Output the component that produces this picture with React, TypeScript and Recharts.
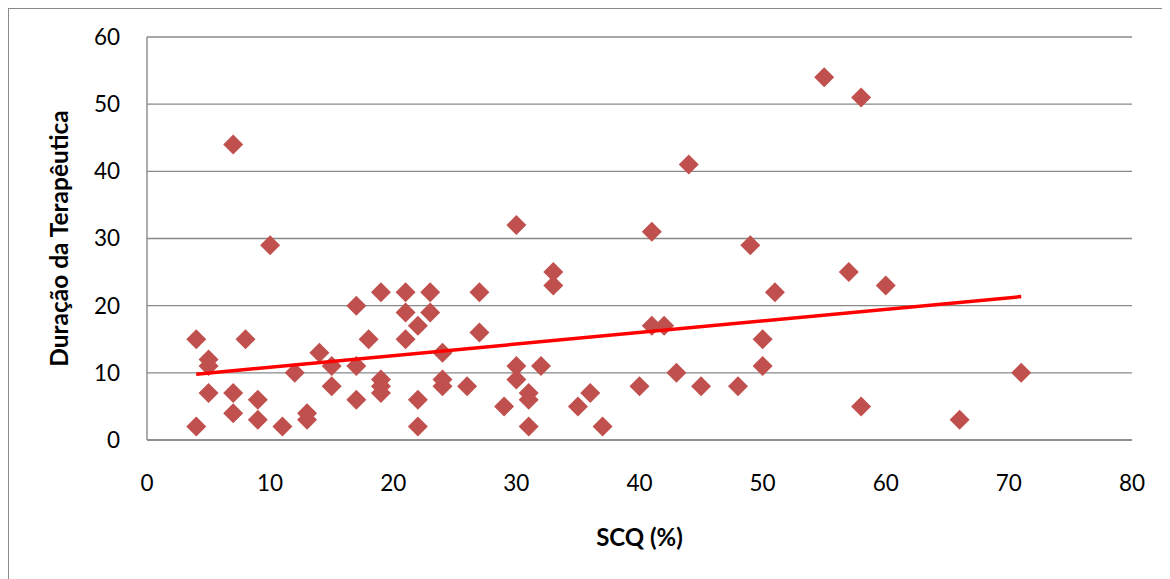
import React from 'react';
import {
  ScatterChart,
  Scatter,
  XAxis,
  YAxis,
  CartesianGrid,
} from 'recharts';

// SCQ (%) vs Duração da Terapêutica
const scqValues = [
  4, 4, 5, 5, 5, 7, 7, 7, 8, 9, 9, 10, 11, 12, 13, 13, 14, 15, 15, 17, 17, 17, 18,
  19, 19, 19, 19, 21, 21, 21, 22, 22, 22, 23, 23, 24, 24, 24, 26, 27, 27, 29, 30,
  30, 30, 31, 31, 31, 32, 33, 33, 35, 36, 37, 40, 41, 41, 42, 43, 44, 45, 48, 49,
  50, 50, 51, 55, 57, 58, 58, 60, 66, 71,
];
const durationValues = [
  15, 2, 12, 11, 7, 44, 7, 4, 15, 6, 3, 29, 2, 10, 4, 3, 13, 11, 8, 20, 11, 6, 15,
  22, 9, 8, 7, 22, 19, 15, 17, 6, 2, 22, 19, 13, 9, 8, 8, 22, 16, 5, 32,
  11, 9, 7, 6, 2, 11, 25, 23, 5, 7, 2, 8, 31, 17, 17, 10, 41, 8, 8, 29,
  15, 11, 22, 54, 25, 51, 5, 23, 3, 10,
];

// linear trendline endpoints
const trendX = [4, 71];
const trendY = [9.8, 21.35];

const xTicks = [0, 10, 20, 30, 40, 50, 60, 70, 80];
const yTicks = [0, 10, 20, 30, 40, 50, 60];

const points = scqValues.map((x, i) => ({ x, y: durationValues[i] }));
const trend = trendX.map((x, i) => ({ x, y: trendY[i] }));

const FONT = 'Lato, "Open Sans", sans-serif';
const GRID = '#898989';
const MARKER = '#c0504d';

function Diamond(props: any) {
  const { cx, cy } = props;
  const r = 10;
  return (
    <polygon
      points={`${cx},${cy - r} ${cx + r},${cy} ${cx},${cy + r} ${cx - r},${cy}`}
      fill={MARKER}
    />
  );
}

function YLabel(props: any) {
  const vb = props.viewBox || {};
  const x = 59;
  const y = (vb.y ?? 0) + (vb.height ?? 0) / 2;
  return (
    <text
      x={x}
      y={y}
      transform={`rotate(-90 ${x} ${y})`}
      textAnchor="middle"
      fontFamily={FONT}
      fontWeight="bold"
      fontSize={24.5}
      fill="#000"
    >
      Duração da Terapêutica
    </text>
  );
}

function XLabel(props: any) {
  const vb = props.viewBox || {};
  const x = (vb.x ?? 0) + (vb.width ?? 0) / 2;
  return (
    <text x={x} y={537} textAnchor="middle" fontFamily={FONT} fontWeight="bold" fontSize={24} fill="#000">
      SCQ (%)
    </text>
  );
}

export default function App() {
  return (
    <div
      style={{
        width: 1162,
        height: 571,
        boxSizing: 'border-box',
        borderTop: `1px solid ${GRID}`,
        borderLeft: `1px solid ${GRID}`,
        overflow: 'hidden',
        background: '#fff',
      }}
    >
      <ScatterChart width={1161} height={570} margin={{ top: 28, right: 38, bottom: 0, left: 0 }}>
        <CartesianGrid vertical={false} stroke={GRID} strokeWidth={1.4} />
        <XAxis
          type="number"
          dataKey="x"
          domain={[0, 80]}
          ticks={xTicks}
          interval={0}
          height={139}
          tickLine={false}
          tickSize={0}
          tickMargin={35}
          axisLine={{ stroke: GRID, strokeWidth: 1.4 }}
          tick={{ fill: '#000', fontSize: 22.5, fontFamily: FONT }}
          label={<XLabel />}
        />
        <YAxis
          type="number"
          dataKey="y"
          domain={[0, 60]}
          ticks={yTicks}
          interval={0}
          width={138}
          tickLine={false}
          tickSize={0}
          tickMargin={27}
          axisLine={{ stroke: GRID, strokeWidth: 1.4 }}
          tick={{ fill: '#000', fontSize: 22.5, fontFamily: FONT }}
          label={<YLabel />}
        />
        <Scatter data={points} shape={Diamond} isAnimationActive={false} />
        <Scatter
          data={trend}
          line={{ stroke: '#ff0000', strokeWidth: 3.5 }}
          shape={() => <g />}
          isAnimationActive={false}
        />
      </ScatterChart>
    </div>
  );
}
